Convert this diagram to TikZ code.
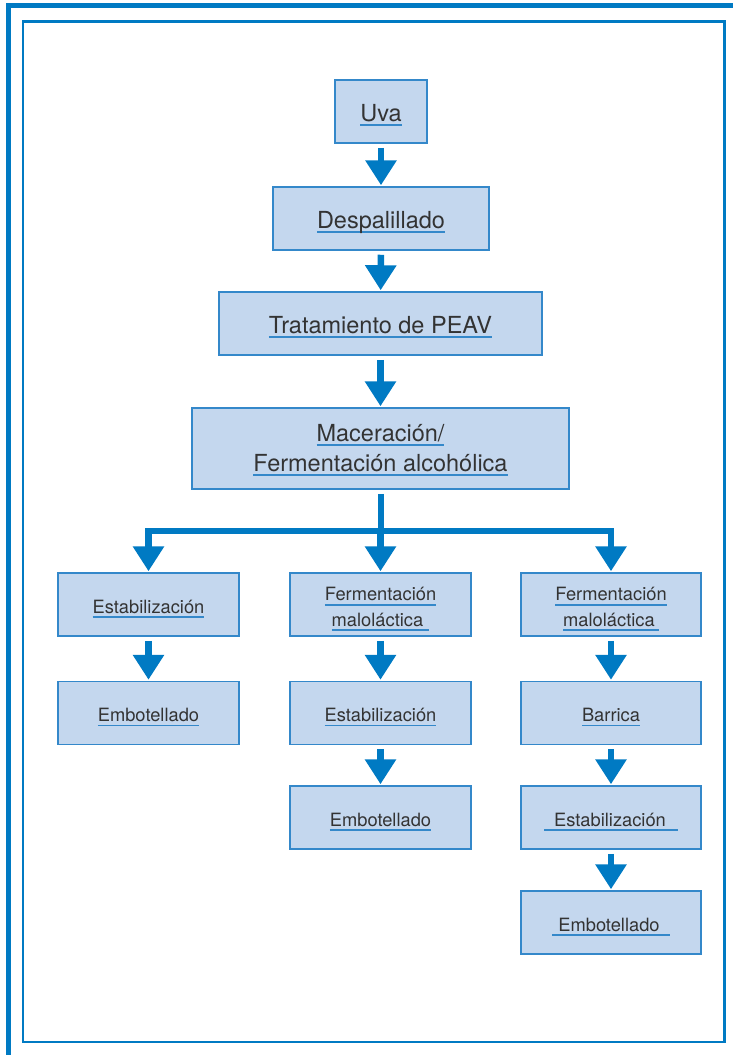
\documentclass[tikz,border=0pt]{standalone}
\usepackage{fontspec}
\setmainfont{TeX Gyre Heros}
\usetikzlibrary{arrows.meta,positioning}

\definecolor{marco}{RGB}{0,122,195}
\definecolor{relleno}{RGB}{196,215,238}
\definecolor{borde}{RGB}{52,136,202}
\definecolor{texto}{RGB}{51,51,51}

% subrayado azul bajo el texto
\newcommand{\subr}[1]{\leavevmode\setbox0\hbox{#1}\rlap{\textcolor{borde}{\rule[-4.8pt]{\wd0}{1.8pt}}}\box0}

\tikzset{
  caja/.style={draw=borde, line width=1.5pt, fill=relleno, text=texto, align=center,
    inner sep=0pt, minimum height=63pt, text height=22pt, text depth=3pt,
    font=\fontsize{23.5}{30}\selectfont},
  cajita/.style={caja, minimum width=181pt, text height=20pt, text depth=3pt,
    font=\fontsize{18.3}{25.6}\selectfont},
  flujo/.style={-{Triangle[width=30pt,length=25pt]}, line width=6.5pt, draw=marco,
    line join=miter, shorten <=4pt, shorten >=1pt},
  tronco/.style={line width=6pt, draw=marco, line join=miter, shorten <=4pt}
}

\begin{document}
\begin{tikzpicture}[x=1pt,y=-1pt]
  \useasboundingbox (0,0) rectangle (733,1055);

  % Marcos
  \draw[marco, line width=5pt, line join=miter] (8.5,1055) -- (8.5,5.8) -- (733,5.8);
  \draw[marco, line width=2.6pt] (23,21.3) rectangle (724.7,1042);

  % Tronco principal
  \node[caja, minimum width=92pt] (uva) at (381,111.5) {\subr{Uva}};
  \node[caja, minimum width=216pt] (desp) at (381,218.5) {\subr{Despalillado}};
  \node[caja, minimum width=323pt] (trat) at (380.5,323.5) {\subr{Tratamiento de PEAV}};
  \node[caja, minimum width=377pt, minimum height=81pt, text height=48.6pt] (mac) at (380.5,448.5)
    {\subr{Maceración/}\\\subr{Fermentación alcohólica}};

  % Rama izquierda
  \node[cajita] (estA) at (148.5,604.5) {\subr{Estabilización}};
  \node[cajita] (embA) at (148.5,713) {\subr{Embotellado}};

  % Rama central
  \node[cajita, text height=46.6pt] (ferB) at (380.5,604.5) {\subr{Fermentación}\\\subr{maloláctica\hspace*{6pt}}};
  \node[cajita] (estB) at (380.5,713) {\subr{Estabilización}};
  \node[cajita] (embB) at (380.5,817.5) {\subr{Embotellado}};

  % Rama derecha
  \node[cajita, minimum width=180pt, text height=46.6pt] (ferC) at (611,604.5) {\subr{Fermentación}\\\subr{maloláctica\hspace*{4pt}}};
  \node[cajita, minimum width=180pt] (barC) at (611,713) {\subr{Barrica}};
  \node[cajita, minimum width=180pt] (estC) at (611,817.5) {\subr{\hspace*{10pt}Estabilización\hspace*{12pt}}};
  \node[cajita, minimum width=180pt] (embC) at (611,922.5) {\subr{\hspace*{6pt}Embotellado\hspace*{10pt}}};

  % Flechas
  \draw[flujo] (uva) -- (desp);
  \draw[flujo] (desp) -- (trat);
  \draw[flujo] (trat) -- (mac);

  % Bifurcación
  \coordinate (div) at (380.5,531);
  \draw[tronco] (mac) -- (div);
  \draw[flujo, shorten <=0pt] (div) -| (estA);
  \draw[flujo, shorten <=0pt] (div) -- (ferB);
  \draw[flujo, shorten <=0pt] (div) -| (ferC);

  \draw[flujo] (estA) -- (embA);
  \draw[flujo] (ferB) -- (estB);
  \draw[flujo] (estB) -- (embB);
  \draw[flujo] (ferC) -- (barC);
  \draw[flujo] (barC) -- (estC);
  \draw[flujo] (estC) -- (embC);
\end{tikzpicture}
\end{document}
